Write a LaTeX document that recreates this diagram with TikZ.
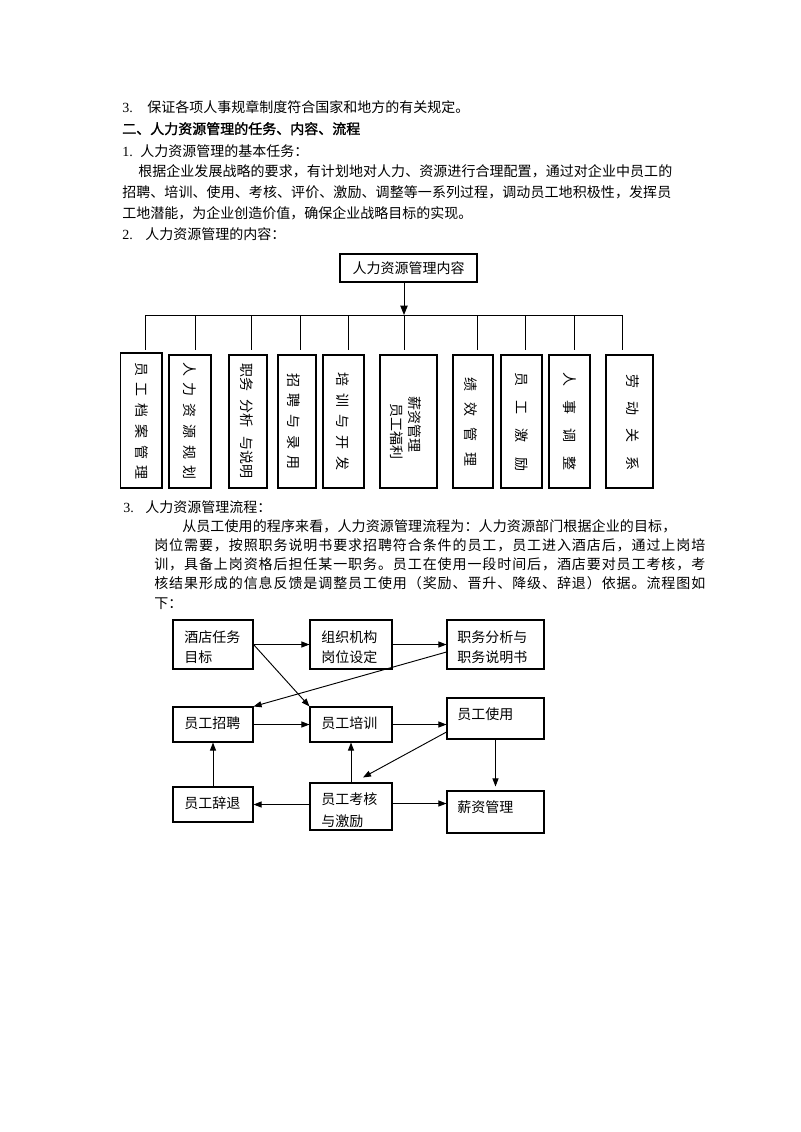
\documentclass[tikz,border=0pt]{standalone}
\usepackage{fontspec}
\setmainfont{Liberation Serif}
\newfontfamily\cjk{Noto Sans CJK SC}
\newfontfamily\cjkb[FakeBold=1.5]{Noto Sans CJK SC}
\usetikzlibrary{arrows.meta,calc}
\newdimen\pxu \pxu=0.75pt
\makeatletter
\newcommand\spr[2]{\hbox to #1{\def\sprsep{}\@tfor\sprc:=#2\do{\sprsep\sprc\def\sprsep{\hfil}}}}
\makeatother
\tikzset{
  txt/.style={anchor=base west, inner sep=0pt, font=\fontsize{10.5}{12}\selectfont\cjk},
  btxt/.style={anchor=base west, inner sep=0pt, font=\fontsize{10.5}{12}\selectfont\cjkb},
  vtxt/.style={rotate=-90, inner sep=0pt, font=\fontsize{10.5}{12}\selectfont\cjk},
  obox/.style={draw, line width=0.8pt, inner sep=0pt},
  fbox/.style={draw, line width=0.8pt, inner sep=0pt},
  oline/.style={line width=0.7pt},
  oarr/.style={line width=0.7pt, -{Triangle[length=7pt,width=5.5pt]}},
  farr/.style={line width=0.7pt, -{Triangle[length=6pt,width=4.5pt]}}
}
\begin{document}
\begin{tikzpicture}[x=0.75pt,y=-0.75pt]
\useasboundingbox (0,0) rectangle (800,1132);
\fill[white] (0,0) rectangle (800,1132);

% ---------- body text ----------
\node[txt] (n1) at (122,112) {\rmfamily 3.};
\node[txt] (l1) at (147,112) {保证各项人事规章制度符合国家和地方的有关规定。};
\node[btxt] (l2) at (122,134) {二、人力资源管理的任务、内容、流程};
\node[txt] (n3) at (122,156) {\rmfamily 1.};
\node[txt] (l3) at (140,156) {人力资源管理的基本任务：};
\node[txt] (l4) at (138,176) {\spr{534\pxu}{根据企业发展战略的要求，有计划地对人力、资源进行合理配置，通过对企业中员工的}};
\node[txt] (l5) at (122,197) {\spr{549\pxu}{招聘、培训、使用、考核、评价、激励、调整等一系列过程，调动员工地积极性，发挥员}};
\node[txt] (l6) at (122,218) {工地潜能，为企业创造价值，确保企业战略目标的实现。};
\node[txt] (n7) at (122,239) {\rmfamily 2.};
\node[txt] (l7) at (145,239) {人力资源管理的内容：};

\node[txt] (n8) at (123,512) {\rmfamily 3.};
\node[txt] (l8) at (145,512) {人力资源管理流程：};
\node[txt] (l9) at (182,531) {\spr{494\pxu}{从员工使用的程序来看，人力资源管理流程为：人力资源部门根据企业的目标，}};
\node[txt] (l10) at (154,550) {\spr{551\pxu}{岗位需要，按照职务说明书要求招聘符合条件的员工，员工进入酒店后，通过上岗培}};
\node[txt] (l11) at (154,569) {\spr{551\pxu}{训，具备上岗资格后担任某一职务。员工在使用一段时间后，酒店要对员工考核，考}};
\node[txt] (l12) at (154,588) {\spr{551\pxu}{核结果形成的信息反馈是调整员工使用（奖励、晋升、降级、辞退）依据。流程图如}};
\node[txt] (l13) at (154,608) {下：};

% ---------- content chart ----------
\node[obox, minimum width=102.75pt, minimum height=21pt] (T) at (408.5,268) {};
\node[txt, anchor=center] (Tt) at (408.5,268) {人力资源管理内容};
\coordinate (tbar) at (404,315);
\coordinate (barL) at (145,315);
\coordinate (barR) at (622,315);
\draw[oarr] ($(T.south)+(-4.5,0)$) -- (tbar);
\draw[oline] (barL) -- (barR);
\foreach \i/\x in {1/145,2/195,3/251,4/300,5/348,6/404,7/477,8/525,9/574,10/622}{
  \coordinate (d\i a) at (\x,315);
  \coordinate (d\i b) at (\x,350);
  \draw[oline] (d\i a) -- (d\i b);
}

\node[obox, minimum width=31pt,    minimum height=101.25pt] (b1)  at (141.35,420.5) {};
\node[obox, minimum width=31.5pt,  minimum height=99.75pt]  (b2)  at (190,421.5) {};
\node[obox, minimum width=28.5pt,  minimum height=99.75pt]  (b3)  at (248,421.5) {};
\node[obox, minimum width=28.5pt,  minimum height=99.75pt]  (b4)  at (297,421.5) {};
\node[obox, minimum width=30.75pt, minimum height=99.75pt]  (b5)  at (343.5,421.5) {};
\node[obox, minimum width=42.75pt, minimum height=99.75pt]  (b6)  at (408.5,421.5) {};
\node[obox, minimum width=30pt,    minimum height=99.75pt]  (b7)  at (473,421.5) {};
\node[obox, minimum width=30.75pt, minimum height=99.75pt]  (b8)  at (521.5,421.5) {};
\node[obox, minimum width=30.75pt, minimum height=99.75pt]  (b9)  at (569.5,421.5) {};
\node[obox, minimum width=35.25pt, minimum height=99.75pt]  (b10) at (629.5,421.5) {};

\node[vtxt] (t1) at (141.7,421) {\spr{118\pxu}{员工档案管理}};
\node[vtxt] (t2) at (190,421) {\spr{118\pxu}{人力资源规划}};
\node[vtxt] (t3) at (247,421) {\hbox to 116\pxu{职务\hfil 分析\hfil 与说明}};
\node[vtxt] (t4) at (294,421.5) {\spr{97\pxu}{招聘与录用}};
\node[vtxt] (t5) at (343,421) {\spr{98\pxu}{培训与开发}};
\node[vtxt, align=left, font=\fontsize{10.5}{13.5}\selectfont\cjk] (t6) at (406,428) {薪资管理\\\hspace*{5.25pt}员工福利};
\node[vtxt] (t7) at (471,422) {\spr{90\pxu}{绩效管理}};
\node[vtxt] (t8) at (522,421.5) {\spr{99\pxu}{员工激励}};
\node[vtxt] (t9) at (570,421) {\spr{98\pxu}{人事调整}};
\node[vtxt] (t10) at (633,422) {\spr{96\pxu}{劳动关系}};

% ---------- flow chart ----------
\node[fbox, minimum width=60pt,    minimum height=36.75pt] (A) at (213,644.5) {};
\node[fbox, minimum width=61.5pt,  minimum height=36.75pt] (B) at (351,644.5) {};
\node[fbox, minimum width=72.75pt, minimum height=36.75pt] (C) at (495.5,644.5) {};
\node[fbox, minimum width=60pt,    minimum height=26.25pt] (D) at (213,724.5) {};
\node[fbox, minimum width=61.5pt,  minimum height=26.25pt] (E) at (351,724.5) {};
\node[fbox, minimum width=72.75pt, minimum height=30.75pt] (F) at (495.5,718.5) {};
\node[fbox, minimum width=60pt,    minimum height=26.25pt] (G) at (213,804.5) {};
\node[fbox, minimum width=61.5pt,  minimum height=35.25pt] (H) at (351,806.5) {};
\node[fbox, minimum width=72.75pt, minimum height=31.5pt]  (I) at (495.5,812) {};

\node[txt] (a1) at (184,642) {酒店任务};
\node[txt] (a2) at (184,662) {目标};
\node[txt] (bb1) at (321,642) {组织机构};
\node[txt] (bb2) at (321,662) {岗位设定};
\node[txt] (c1) at (457,642) {职务分析与};
\node[txt] (c2) at (457,662) {职务说明书};
\node[txt] (dt) at (184,728) {员工招聘};
\node[txt] (et) at (321,728) {员工培训};
\node[txt] (ft) at (457,719) {员工使用};
\node[txt] (gt) at (184,808) {员工辞退};
\node[txt] (h1) at (321,804) {员工考核};
\node[txt] (h2) at (321,826) {与激励};
\node[txt] (it) at (457,812) {薪资管理};

\draw[farr] (A.east) -- (B.west);
\draw[farr] (B.east) -- (C.west);
\draw[farr] (A.east) -- (E.north west);
\draw[farr] ($(C.west)+(0,7.5)$) -- (D.north east);
\draw[farr] (D.east) -- (E.west);
\draw[farr] (E.east) -- (E.east -| F.west);
\draw[farr] ($(F.west)+(0,13.5)$) -- ($(H.north)+(12,-5)$);
\draw[farr] (H.north) -- (E.south);
\draw[farr] (F.south) -- ($(I.north)+(0,-4)$);
\draw[farr] (H.west |- G.east) -- (G.east);
\coordinate (h3) at ($(H.east)+(0,-3)$);
\draw[farr] (h3) -- (h3 -| I.west);
\draw[farr] (G.north) -- (D.south);
\end{tikzpicture}
\end{document}
